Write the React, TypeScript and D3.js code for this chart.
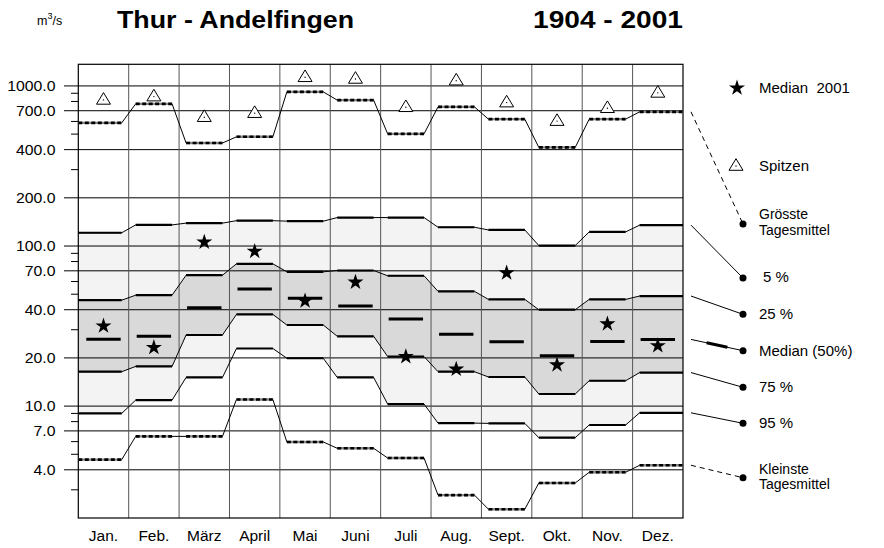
import React from 'react';
import * as d3 from 'd3';

const months = ['Jan.', 'Feb.', 'März', 'April', 'Mai', 'Juni', 'Juli', 'Aug.', 'Sept.', 'Okt.', 'Nov.', 'Dez.'];
const maxDaily = [588, 773, 440, 481, 918, 815, 502, 740, 620, 413, 620, 689];
const peaks = [818, 858, 638, 676, 1133, 1106, 736, 1079, 787, 603, 726, 905];
const p5 = [121, 135.5, 139, 144, 143, 150.6, 150.6, 131, 126, 100.7, 122.5, 135];
const p25 = [45.9, 49.3, 65.7, 77.4, 69, 70.3, 65.2, 52.1, 46.4, 40.0, 46.4, 48.7];
const median = [26.2, 27.3, 41.2, 53.8, 47.1, 42.2, 35.0, 28.1, 25.2, 20.6, 25.3, 26.1];
const p75 = [16.4, 17.7, 27.8, 37.4, 32.1, 27.3, 20.4, 16.4, 15.2, 11.9, 14.4, 16.2];
const p95 = [9.0, 10.9, 15.1, 22.9, 19.9, 15.1, 10.3, 7.83, 7.8, 6.35, 7.62, 9.08];
const minDaily = [4.63, 6.47, 6.47, 11.0, 5.97, 5.45, 4.74, 2.78, 2.27, 3.31, 3.86, 4.27];
const median2001 = [32.0, 23.5, 107, 93.7, 45.9, 60.1, 20.6, 17.2, 68.7, 18.3, 33.0, 24.1];

const majorTicks = [1000, 700, 400, 200, 100, 70, 40, 20, 10, 7, 4];
const minorTicks = [900, 800, 600, 500, 300, 90, 80, 60, 50, 30, 9, 8, 6, 5, 3];

const titleText = 'Thur - Andelfingen';
const periodText = '1904 - 2001';

const FONT = 'Liberation Sans, Arial, Helvetica, sans-serif';

export default function App() {
  const W = 884, H = 548;
  const plotLeft = 78.3, plotRight = 683, plotTop = 64.3, plotBottom = 518;
  const x = d3.scaleBand<string>().domain(months).range([plotLeft, plotRight]).padding(0);
  const y = d3.scaleLog().domain([2, 1365]).range([plotBottom, plotTop]);
  const bw = x.bandwidth();
  const inset = 7;
  const fmt = d3.format('.1f');

  const segs = (vals: number[]) =>
    vals.map((v, i) => {
      const x0 = x(months[i])!;
      const left = i === 0 ? plotLeft : x0 + inset;
      const right = i === vals.length - 1 ? plotRight : x0 + bw - inset;
      return { left, right, y: y(v) };
    });
  const stepPoints = (vals: number[]) => {
    const pts: [number, number][] = [];
    segs(vals).forEach((s) => {
      pts.push([s.left, s.y], [s.right, s.y]);
    });
    return pts;
  };
  const line = d3.line();
  const band = (hi: number[], lo: number[]) => {
    const a = stepPoints(hi);
    const b = stepPoints(lo);
    return d3
      .area<number>()
      .x((i) => a[i][0])
      .y0((i) => b[i][1])
      .y1((i) => a[i][1])(a.map((_, i) => i)) as string;
  };

  const star = d3.symbol().type(d3.symbolStar).size(80)() as string;
  const triangle = (cx: number, cy: number) => (
    <g>
      <path d={`M${cx - 7},${cy + 4.3}L${cx + 7},${cy + 4.3}L${cx},${cy - 7.3}Z`} fill="white" stroke="black" strokeWidth={1} />
      <circle cx={cx} cy={cy} r={0.7} fill="black" />
    </g>
  );

  const quantileSeries = [p5, p25, p75, p95];
  const extremeSeries = [maxDaily, minDaily];

  const dotX = 743;
  const lineX0 = 691;
  const legendLines = [
    { vals: maxDaily, dotY: 224, dashed: true, thick: false },
    { vals: p5, dotY: 278, dashed: false, thick: false },
    { vals: p25, dotY: 314.3, dashed: false, thick: false },
    { vals: median, dotY: 350.7, dashed: false, thick: true },
    { vals: p75, dotY: 387.3, dashed: false, thick: false },
    { vals: p95, dotY: 423.3, dashed: false, thick: false },
    { vals: minDaily, dotY: 477.7, dashed: true, thick: false },
  ];
  const legendTexts = [
    { x: 759, y: 93, t: 'Median  2001', fs: 15 },
    { x: 759, y: 171, t: 'Spitzen', fs: 15 },
    { x: 759, y: 218.8, t: 'Grösste', fs: 14 },
    { x: 759, y: 234.6, t: 'Tagesmittel', fs: 14 },
    { x: 763, y: 282, t: '5 %', fs: 15 },
    { x: 759, y: 319, t: '25 %', fs: 15 },
    { x: 759, y: 355.5, t: 'Median (50%)', fs: 15 },
    { x: 759, y: 392, t: '75 %', fs: 15 },
    { x: 759, y: 428, t: '95 %', fs: 15 },
    { x: 759, y: 473.5, t: 'Kleinste', fs: 14 },
    { x: 759, y: 489, t: 'Tagesmittel', fs: 14 },
  ];

  return (
    <svg width={W} height={H} style={{ position: 'absolute', left: 0, top: 0, background: 'white' }} fontFamily={FONT}>
      <rect x={0} y={0} width={W} height={H} fill="white" />
      {/* bands */}
      <path d={band(p5, p95)} fill="#f3f3f3" />
      <path d={band(p25, p75)} fill="#d9d9d9" />

      {/* horizontal grid */}
      {majorTicks.map((v) => (
        <line key={'g' + v} x1={64} x2={plotRight} y1={y(v)} y2={y(v)} stroke="#000" strokeWidth={1} />
      ))}
      {minorTicks.map((v) => (
        <line key={'m' + v} x1={71} x2={plotLeft} y1={y(v)} y2={y(v)} stroke="#000" strokeWidth={1} />
      ))}
      {/* vertical grid */}
      {months.slice(1).map((m) => (
        <line key={'v' + m} x1={x(m)} x2={x(m)} y1={plotTop} y2={plotBottom} stroke="#555" strokeWidth={1} />
      ))}
      <rect x={plotLeft} y={plotTop} width={plotRight - plotLeft} height={plotBottom - plotTop} fill="none" stroke="#000" strokeWidth={1.2} />

      {/* quantile lines */}
      {quantileSeries.map((vals, k) => (
        <g key={'q' + k}>
          <path d={line(stepPoints(vals)) as string} fill="none" stroke="#000" strokeWidth={1} />
          {segs(vals).map((s, i) => (
            <line key={i} x1={s.left} x2={s.right} y1={s.y} y2={s.y} stroke="#000" strokeWidth={2.2} />
          ))}
        </g>
      ))}
      {/* extremes */}
      {extremeSeries.map((vals, k) => (
        <g key={'e' + k}>
          <path d={line(stepPoints(vals)) as string} fill="none" stroke="#000" strokeWidth={1} />
          {segs(vals).map((s, i) => (
            <g key={i}>
              <line x1={s.left} x2={s.right} y1={s.y} y2={s.y} stroke="#888" strokeWidth={2.4} />
              <line x1={s.left} x2={s.right} y1={s.y} y2={s.y} stroke="#000" strokeWidth={2.6} strokeDasharray="4,2.5" />
            </g>
          ))}
        </g>
      ))}
      {/* median bars */}
      {median.map((v, i) => (
        <line key={'md' + i} x1={x(months[i])! + inset + 1} x2={x(months[i])! + bw - inset - 1} y1={y(v)} y2={y(v)} stroke="#000" strokeWidth={3} />
      ))}
      {/* median 2001 stars */}
      {median2001.map((v, i) => (
        <path key={'s' + i} d={star} transform={`translate(${x(months[i])! + bw / 2},${y(v) + 0.8})`} fill="#000" />
      ))}
      {/* peaks */}
      {peaks.map((v, i) => (
        <g key={'p' + i}>{triangle(x(months[i])! + bw / 2, y(v))}</g>
      ))}

      {/* y labels */}
      {majorTicks.map((v) => (
        <g key={'yl' + v} transform={`translate(55.5,${y(v) + 5}) scale(1.13,1)`}>
          <text x={0} y={0} textAnchor="end" fontSize={14} fill="#000">{fmt(v)}</text>
        </g>
      ))}
      {/* x labels */}
      {months.map((m) => (
        <text key={'xl' + m} x={x(m)! + bw / 2} y={541} textAnchor="middle" fontSize={15.5} fill="#000">{m}</text>
      ))}

      {/* title */}
      <text x={37} y={24.5} fontSize={12.5} fill="#000">
        m<tspan dy={-5.5} fontSize={9}>3</tspan><tspan dy={5.5}>/s</tspan>
      </text>
      <text x={117} y={27.5} fontSize={23.5} fontWeight="bold" textLength={237} lengthAdjust="spacingAndGlyphs" fill="#000">{titleText}</text>
      <text x={533} y={27.5} fontSize={23.5} fontWeight="bold" textLength={150} lengthAdjust="spacingAndGlyphs" fill="#000">{periodText}</text>

      {/* legend */}
      <path d={star} transform={`translate(737,88)`} fill="#000" />
      {triangle(736, 166)}
      {legendLines.map((l, k) => {
        const y0 = y(l.vals[l.vals.length - 1]);
        const x1 = dotX, y1 = l.dotY;
        return (
          <g key={'ll' + k}>
            <line x1={lineX0} y1={y0} x2={x1} y2={y1} stroke="#000" strokeWidth={1} strokeDasharray={l.dashed ? '5,4' : undefined} />
            {l.thick && (
              <line x1={lineX0 + (x1 - lineX0) * 0.3} y1={y0 + (y1 - y0) * 0.3} x2={lineX0 + (x1 - lineX0) * 0.7} y2={y0 + (y1 - y0) * 0.7} stroke="#000" strokeWidth={3} />
            )}
            <circle cx={dotX} cy={l.dotY} r={3.5} fill="#000" />
          </g>
        );
      })}
      {legendTexts.map((t, k) => (
        <text key={'lt' + k} x={t.x} y={t.y} fontSize={t.fs} fill="#000" style={{ whiteSpace: 'pre' }}>{t.t}</text>
      ))}
    </svg>
  );
}
